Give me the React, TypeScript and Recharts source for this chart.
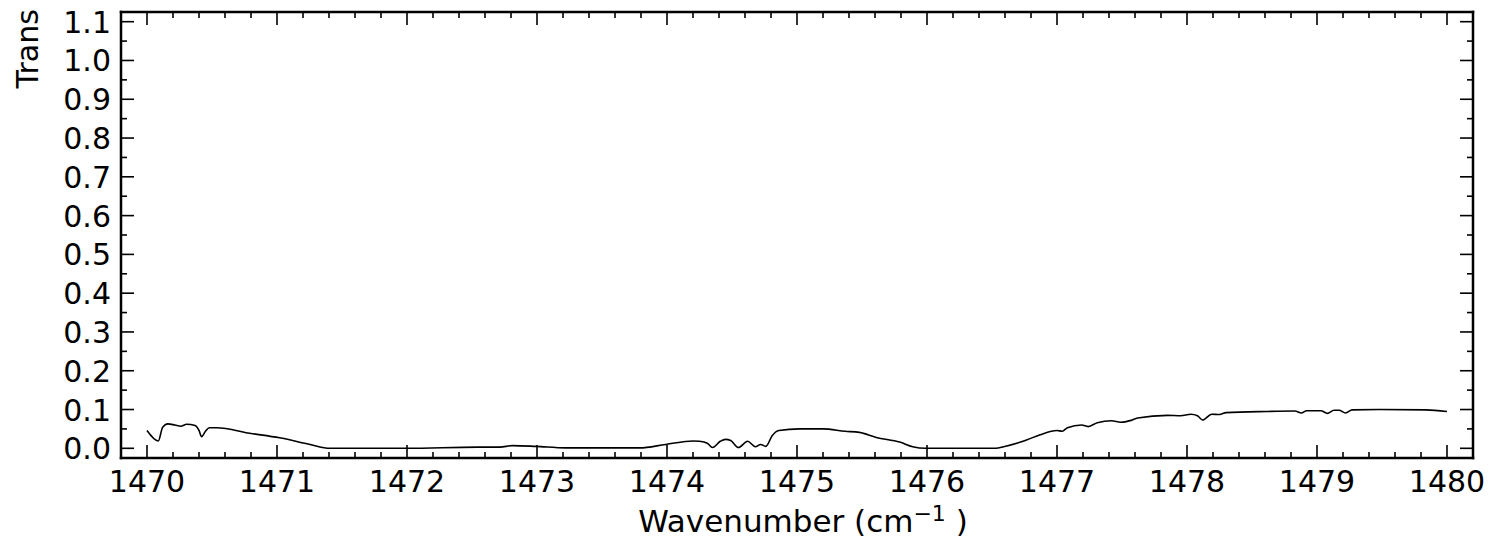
import React from 'react';
import { LineChart, Line, XAxis, YAxis, Label } from 'recharts';

const wavenumbers = [
  1470.0, 1470.087, 1470.12, 1470.16, 1470.215, 1470.26, 1470.305, 1470.37, 1470.4, 1470.42,
  1470.45, 1470.48, 1470.535, 1470.79, 1471.02, 1471.24, 1471.41, 1472.0, 1472.54, 1472.715,
  1472.81, 1472.99, 1473.22, 1473.79, 1473.99, 1474.2, 1474.25, 1474.31, 1474.35, 1474.41,
  1474.45, 1474.49, 1474.55, 1474.62, 1474.68, 1474.72, 1474.76, 1474.81, 1474.86, 1475.02,
  1475.2, 1475.37, 1475.48, 1475.61, 1475.79, 1475.89, 1475.99, 1476.53, 1476.59, 1476.72,
  1476.77, 1476.87, 1477.0, 1477.04, 1477.08, 1477.19, 1477.24, 1477.31, 1477.42, 1477.49,
  1477.57, 1477.62, 1477.85, 1477.95, 1478.03, 1478.08, 1478.12, 1478.19, 1478.25, 1478.3,
  1478.61, 1478.83, 1478.88, 1478.92, 1479.03, 1479.08, 1479.13, 1479.17, 1479.22, 1479.27,
  1479.48, 1479.84, 1480.0,
];

const transmission = [
  0.046, 0.019, 0.054, 0.063, 0.06, 0.057, 0.062, 0.059, 0.046, 0.03,
  0.044, 0.053, 0.053, 0.039, 0.027, 0.011, 0.0, 0.0, 0.003, 0.003,
  0.007, 0.005, 0.001, 0.001, 0.01, 0.019, 0.018, 0.013, 0.002, 0.018,
  0.023, 0.02, 0.002, 0.018, 0.004, 0.01, 0.005, 0.033, 0.046, 0.05,
  0.05, 0.044, 0.041, 0.028, 0.016, 0.004, 0.0, 0.0, 0.004, 0.016,
  0.022, 0.035, 0.046, 0.044, 0.053, 0.06, 0.056, 0.066, 0.071, 0.067,
  0.072, 0.078, 0.085, 0.084, 0.088, 0.084, 0.073, 0.088, 0.087, 0.092,
  0.095, 0.096, 0.091, 0.097, 0.097, 0.09, 0.098, 0.098, 0.091, 0.099,
  0.1, 0.099, 0.095,
];

const xMajorTicks = [1470, 1471, 1472, 1473, 1474, 1475, 1476, 1477, 1478, 1479, 1480];
const xTickLabels = ['1470', '1471', '1472', '1473', '1474', '1475', '1476', '1477', '1478', '1479', '1480'];
const yMajorTicks = [0, 0.1, 0.2, 0.3, 0.4, 0.5, 0.6, 0.7, 0.8, 0.9, 1.0, 1.1];
const yTickLabels = ['0.0', '0.1', '0.2', '0.3', '0.4', '0.5', '0.6', '0.7', '0.8', '0.9', '1.0', '1.1'];
const xMinorStep = 0.2;
const yMinorStep = 0.05;
const xDomain = [1469.8, 1480.2];
const yDomain = [-0.025, 1.125];

const xLabelMain = 'Wavenumber (cm';
const xLabelSup = '\u22121';
const yLabelText = 'Trans';

const data = wavenumbers.map((w, i) => ({ w, t: transmission[i] }));

function buildTicks(start: number, end: number, step: number): number[] {
  const out: number[] = [];
  const n = Math.round((end - start) / step);
  for (let i = 0; i <= n; i++) out.push(Math.round((start + i * step) * 1000) / 1000);
  return out;
}
const xTicks = buildTicks(xMajorTicks[0], xMajorTicks[xMajorTicks.length - 1], xMinorStep);
const yTicks = buildTicks(yMajorTicks[0], yMajorTicks[yMajorTicks.length - 1], yMinorStep);

const FONT = 'DejaVu Sans';
const FS = 30;
const LFS = 31;
const MAJ = 13;
const MIN = 6;
const TW = 1.6;

function xLabelFor(v: number): string | null {
  const i = xMajorTicks.findIndex((m) => Math.abs(m - v) < 1e-6);
  return i >= 0 ? xTickLabels[i] : null;
}
function yLabelFor(v: number): string | null {
  const i = yMajorTicks.findIndex((m) => Math.abs(m - v) < 1e-6);
  return i >= 0 ? yTickLabels[i] : null;
}

const BottomTick = (props: any) => {
  const { x, y, payload } = props;
  const lab = xLabelFor(payload.value);
  const len = lab !== null ? MAJ : MIN;
  return (
    <g>
      <line x1={x} x2={x} y1={y} y2={y - len} stroke="#000" strokeWidth={TW} />
      {lab !== null && (
        <text x={x} y={y + 34} textAnchor="middle" fontSize={FS} fontFamily={FONT} fill="#000">
          {lab}
        </text>
      )}
    </g>
  );
};

const TopTick = (props: any) => {
  const { x, y, payload } = props;
  const len = xLabelFor(payload.value) !== null ? MAJ : MIN;
  return <line x1={x} x2={x} y1={y} y2={y + len} stroke="#000" strokeWidth={TW} />;
};

const LeftTick = (props: any) => {
  const { x, y, payload } = props;
  const lab = yLabelFor(payload.value);
  const len = lab !== null ? MAJ : MIN;
  return (
    <g>
      <line x1={x} x2={x + len} y1={y} y2={y} stroke="#000" strokeWidth={TW} />
      {lab !== null && (
        <text x={x - 10} y={y + 11} textAnchor="end" fontSize={FS} fontFamily={FONT} fill="#000">
          {lab}
        </text>
      )}
    </g>
  );
};

const RightTick = (props: any) => {
  const { x, y, payload } = props;
  const len = yLabelFor(payload.value) !== null ? MAJ : MIN;
  return <line x1={x} x2={x - len} y1={y} y2={y} stroke="#000" strokeWidth={TW} />;
};

const XLabelContent = (props: any) => {
  const vb = props.viewBox || {};
  const cx = vb.x + vb.width / 2 + 6;
  const by = vb.y + 73.5;
  return (
    <text x={cx} y={by} textAnchor="middle" fontSize={LFS} fontFamily={FONT} fill="#000">
      <tspan>{xLabelMain}</tspan>
      <tspan dy={-11} fontSize={22}>{xLabelSup}</tspan>
      <tspan dy={11}>{' )'}</tspan>
    </text>
  );
};

const YLabelContent = (props: any) => {
  const vb = props.viewBox || {};
  const lx = vb.x + 38;
  const ly = vb.y + 76.5;
  return (
    <text
      x={lx}
      y={ly}
      transform={`rotate(-90 ${lx} ${ly})`}
      textAnchor="start"
      fontSize={FS}
      fontFamily={FONT}
      fill="#000"
    >
      {yLabelText}
    </text>
  );
};

const axisLineStyle = { stroke: '#000', strokeWidth: 2.5, strokeLinecap: 'square' as const };

export default function App() {
  return (
    <div style={{ position: 'absolute', left: 0, top: 0, width: 1492, height: 539, background: '#fff' }}>
      <LineChart width={1492} height={539} data={data} margin={{ top: 11, right: 18, bottom: 0, left: 0 }}>
        <XAxis
          xAxisId="bottom"
          dataKey="w"
          type="number"
          domain={xDomain}
          allowDataOverflow
          ticks={xTicks}
          interval={0}
          orientation="bottom"
          height={81}
          tickSize={0}
          tickMargin={0}
          tickLine={false}
          axisLine={axisLineStyle}
          tick={<BottomTick />}
        >
          <Label content={<XLabelContent />} />
        </XAxis>
        <XAxis
          xAxisId="top"
          dataKey="w"
          type="number"
          domain={xDomain}
          allowDataOverflow
          ticks={xTicks}
          interval={0}
          orientation="top"
          height={1}
          tickSize={0}
          tickMargin={0}
          tickLine={false}
          axisLine={axisLineStyle}
          tick={<TopTick />}
        />
        <YAxis
          yAxisId="left"
          type="number"
          domain={yDomain}
          allowDataOverflow
          ticks={yTicks}
          interval={0}
          orientation="left"
          width={121}
          tickSize={0}
          tickMargin={0}
          tickLine={false}
          axisLine={axisLineStyle}
          tick={<LeftTick />}
        >
          <Label content={<YLabelContent />} />
        </YAxis>
        <YAxis
          yAxisId="right"
          type="number"
          domain={yDomain}
          allowDataOverflow
          ticks={yTicks}
          interval={0}
          orientation="right"
          width={1}
          tickSize={0}
          tickMargin={0}
          tickLine={false}
          axisLine={axisLineStyle}
          tick={<RightTick />}
        />
        <Line
          xAxisId="bottom"
          yAxisId="left"
          dataKey="t"
          type="monotone"
          stroke="#000"
          strokeWidth={1.6}
          dot={false}
          activeDot={false}
          isAnimationActive={false}
        />
        <Line
          xAxisId="top"
          yAxisId="right"
          dataKey="t"
          type="monotone"
          stroke="none"
          strokeWidth={0}
          dot={false}
          activeDot={false}
          legendType="none"
          isAnimationActive={false}
        />
      </LineChart>
    </div>
  );
}
